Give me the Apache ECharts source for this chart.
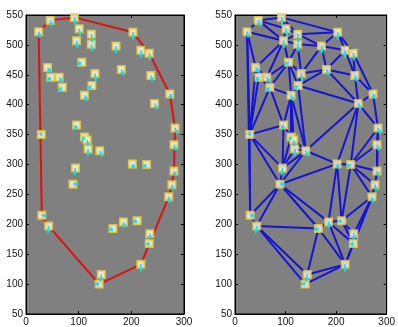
<!DOCTYPE html>
<html>
<head>
<meta charset="utf-8">
<script src="https://cdn.jsdelivr.net/npm/echarts@6/dist/echarts.min.js"></script>
<style>
  html, body { margin: 0; padding: 0; background: #fff; }
  #chart { width: 398px; height: 327px; }
</style>
</head>
<body>
<div id="chart"></div>
<script>
// point positions
const xValues = [24, 46, 92, 101, 124, 96, 124, 171, 203, 218, 234, 106, 41, 47, 63, 131,
  181, 237, 69, 125, 111, 273, 244, 96, 29, 283, 111, 116, 281, 118, 140, 94,
  202, 229, 281, 89, 277, 271, 30, 43, 185, 211, 165, 235, 234, 218, 143, 139];
const yValues = [522, 541, 546, 527, 518, 507, 501, 498, 521, 491, 486, 471, 462, 446, 446, 452,
  459, 449, 429, 432, 416, 418, 402, 366, 350, 361, 346, 341, 333, 326, 323, 294,
  301, 300, 289, 267, 266, 246, 215, 197, 204, 206, 193, 184, 168, 133, 116, 100];
// small cyan arrows drawn from each point (data units)
const arrowDx = [2, 3, 2, 2, 2, 2, 2, 0, 0, 0, 2, -9, 6, -6, 6, 2,
  4, 3, -8, -8, 5, 4, 5, -4, 1, 4, -4, 2, 4, 0, 4, -2,
  3, -8, 3, 10, 2, 2, 9, -2, 2, -8, -8, 0, -6, 0, -2, -8];
const arrowDy = [-10, -10, -12, -12, -14, -12, -12, -12, -12, -12, -12, -4, -8, -6, -9, -12,
  -10, -10, -6, -6, -10, -8, -10, -8, -2, -10, -6, -10, -10, -12, -10, -12,
  -8, -5, -8, 0, -10, -10, -1, -12, -10, -2, -3, -10, -2, -12, -12, 0];

const xTicks = [0, 300, 100];
const yTicks = [50, 550, 50];

const points = xValues.map((x, i) => [x, yValues[i]]);

// convex hull (monotone chain)
const convexHull = (pts) => {
  const p = pts.slice().sort((a, b) => a[0] - b[0] || a[1] - b[1]);
  const cross = (o, a, b) => (a[0] - o[0]) * (b[1] - o[1]) - (a[1] - o[1]) * (b[0] - o[0]);
  const lower = [];
  for (const q of p) {
    while (lower.length >= 2 && cross(lower[lower.length - 2], lower[lower.length - 1], q) <= 0) lower.pop();
    lower.push(q);
  }
  const upper = [];
  for (let i = p.length - 1; i >= 0; i--) {
    const q = p[i];
    while (upper.length >= 2 && cross(upper[upper.length - 2], upper[upper.length - 1], q) <= 0) upper.pop();
    upper.push(q);
  }
  upper.pop();
  lower.pop();
  const hull = lower.concat(upper);
  hull.push(hull[0]);
  return hull;
};

// delaunay triangulation (Bowyer-Watson), returns unique edges
const delaunayEdges = (pts) => {
  const all = pts.slice();
  const n = pts.length;
  all.push([-10000, -10000], [10000, -10000], [0, 10000]);
  const circum = (a, b, c) => {
    const [ax, ay] = all[a], [bx, by] = all[b], [cx, cy] = all[c];
    const d = 2 * (ax * (by - cy) + bx * (cy - ay) + cx * (ay - by));
    const ux = ((ax * ax + ay * ay) * (by - cy) + (bx * bx + by * by) * (cy - ay) + (cx * cx + cy * cy) * (ay - by)) / d;
    const uy = ((ax * ax + ay * ay) * (cx - bx) + (bx * bx + by * by) * (ax - cx) + (cx * cx + cy * cy) * (bx - ax)) / d;
    return { x: ux, y: uy, r2: (ax - ux) ** 2 + (ay - uy) ** 2 };
  };
  let tris = [{ v: [n, n + 1, n + 2], c: circum(n, n + 1, n + 2) }];
  for (let i = 0; i < n; i++) {
    const [px, py] = all[i];
    const bad = [], good = [];
    tris.forEach((t) => {
      ((px - t.c.x) ** 2 + (py - t.c.y) ** 2 < t.c.r2 ? bad : good).push(t);
    });
    const edgeCount = {};
    bad.forEach((t) => {
      [[0, 1], [1, 2], [2, 0]].forEach(([a, b]) => {
        const e = [t.v[a], t.v[b]].sort((u, w) => u - w).join(",");
        edgeCount[e] = (edgeCount[e] || 0) + 1;
      });
    });
    Object.keys(edgeCount).forEach((e) => {
      if (edgeCount[e] === 1) {
        const [a, b] = e.split(",").map(Number);
        good.push({ v: [a, b, i], c: circum(a, b, i) });
      }
    });
    tris = good;
  }
  const edges = {};
  tris.forEach((t) => {
    if (t.v.some((v) => v >= n)) return;
    [[0, 1], [1, 2], [2, 0]].forEach(([a, b]) => {
      const [u, w] = [t.v[a], t.v[b]].sort((p, q) => p - q);
      edges[u + "," + w] = [u, w];
    });
  });
  return Object.values(edges);
};

const hull = convexHull(points);
const edges = delaunayEdges(points);

const chart = echarts.init(document.getElementById("chart"));

const font = "Liberation Sans";
const makeX = (gridIndex, position, show) => ({
  gridIndex,
  position,
  min: xTicks[0],
  max: xTicks[1],
  interval: xTicks[2],
  axisLine: { show: true, onZero: false, lineStyle: { color: "#000", width: 1 } },
  axisTick: { show: true, inside: true, length: 3, lineStyle: { color: "#000" } },
  axisLabel: { show, color: "#111", fontSize: 10, fontFamily: font, margin: 3 },
  splitLine: { show: false },
});
const makeY = (gridIndex, position, show) => ({
  gridIndex,
  position,
  min: yTicks[0],
  max: yTicks[1],
  interval: yTicks[2],
  axisLine: { show: true, onZero: false, lineStyle: { color: "#000", width: 1 } },
  axisTick: { show: true, inside: true, length: 3, lineStyle: { color: "#000" } },
  axisLabel: { show, color: "#111", fontSize: 10, fontFamily: font, margin: 3 },
  splitLine: { show: false },
});

const squareSeries = (idx) => ({
  type: "scatter",
  xAxisIndex: idx,
  yAxisIndex: idx,
  symbol: "emptyRect",
  symbolSize: 7,
  itemStyle: { color: "#e8d23c", borderColor: "#e8d23c", borderWidth: 1.2 },
  data: points,
  z: 5,
  silent: true,
});
const arrowSeries = (idx) => ({
  type: "lines",
  coordinateSystem: "cartesian2d",
  xAxisIndex: idx,
  yAxisIndex: idx,
  symbol: ["none", "arrow"],
  symbolSize: 4,
  lineStyle: { color: "#22d8e0", width: 1.6, opacity: 1 },
  data: points.map((p, i) => ({ coords: [p, [p[0] + arrowDx[i], p[1] + arrowDy[i]]] })),
  z: 6,
  silent: true,
});

const option = {
  animation: false,
  grid: [
    { left: 26, right: 214, top: 15, bottom: 12, show: true, backgroundColor: "#808080", borderColor: "#000", borderWidth: 1 },
    { left: 235, right: 5, top: 15, bottom: 12, show: true, backgroundColor: "#808080", borderColor: "#000", borderWidth: 1 },
  ],
  xAxis: [makeX(0, "bottom", true), makeX(1, "bottom", true), makeX(0, "top", false), makeX(1, "top", false)],
  yAxis: [makeY(0, "left", true), makeY(1, "left", true), makeY(0, "right", false), makeY(1, "right", false)],
  series: [
    {
      type: "line",
      xAxisIndex: 0,
      yAxisIndex: 0,
      data: hull,
      symbol: "none",
      lineStyle: { color: "#e01010", width: 2 },
      z: 3,
      silent: true,
    },
    {
      type: "lines",
      coordinateSystem: "cartesian2d",
      xAxisIndex: 1,
      yAxisIndex: 1,
      lineStyle: { color: "#1414d8", width: 2, opacity: 1 },
      data: edges.map(([a, b]) => ({ coords: [points[a], points[b]] })),
      z: 3,
      silent: true,
    },
    squareSeries(0),
    arrowSeries(0),
    squareSeries(1),
    arrowSeries(1),
  ],
};

chart.setOption(option);
</script>
</body>
</html>
